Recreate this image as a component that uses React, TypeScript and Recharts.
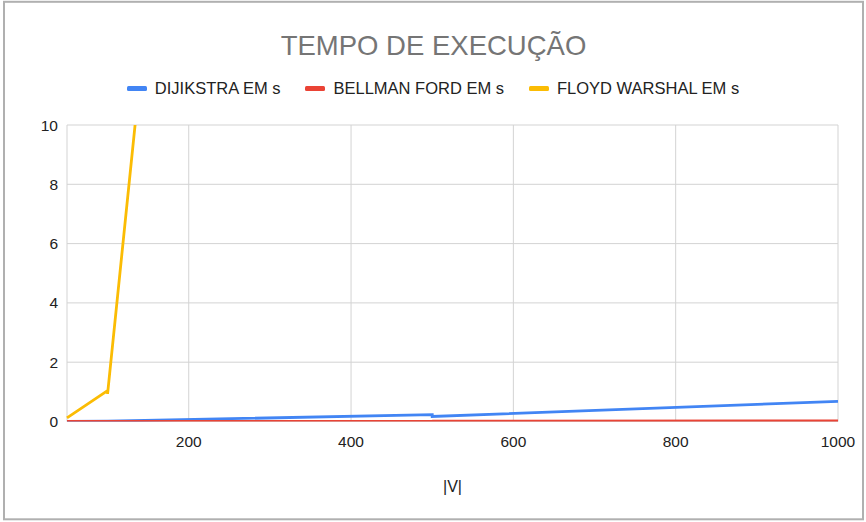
import React from 'react';
import { LineChart, Line, XAxis, YAxis, CartesianGrid } from 'recharts';

const chartTitle = 'TEMPO DE EXECUÇÃO';
const xAxisTitle = '|V|';
const vertices = [50, 100, 100, 500, 500, 1000];
const dijkstra = [0.004, 0.012, 0.012, 0.23, 0.17, 0.68];
const bellmanFord = [0.001, 0.003, 0.002, 0.01, 0.008, 0.02];
const floydWarshall = [0.12, 1.04, 0.93, 108, 105, 860];
const xTicks = [200, 400, 600, 800, 1000];
const yTicks = [0, 2, 4, 6, 8, 10];
const seriesKeys = ['dijkstra', 'bellman', 'floyd'];
const seriesNames = ['DIJIKSTRA EM s', 'BELLMAN FORD EM s', 'FLOYD WARSHAL EM s'];
const seriesColors = ['#4285F4', '#EA4335', '#FBBC04'];

const data = vertices.map((v, i) => ({
  v,
  dijkstra: dijkstra[i],
  bellman: bellmanFord[i],
  floyd: floydWarshall[i],
}));

const FONT = '"Liberation Sans", Arial, sans-serif';
const W = 866;
const H = 522;

export default function App() {
  return (
    <div style={{ position: 'absolute', left: 0, top: 0, width: W, height: H, background: '#fff', fontFamily: FONT }}>
      <LineChart
        width={W}
        height={H}
        data={data}
        margin={{ top: 125, right: 28, bottom: 0, left: 0 }}
      >
        <CartesianGrid stroke="#d3d3d3" strokeWidth={1} />
        <XAxis
          dataKey="v"
          type="number"
          domain={[50, 1000]}
          ticks={xTicks}
          axisLine={false}
          tickLine={false}
          tickMargin={8}
          height={100.5}
          tick={{ fontSize: 15.5, fill: '#222', fontFamily: FONT }}
          label={{ value: xAxisTitle, position: 'insideBottom', offset: 30, fontSize: 16, fill: '#222', fontFamily: FONT }}
        />
        <YAxis
          type="number"
          domain={[0, 10]}
          ticks={yTicks}
          allowDataOverflow
          axisLine={false}
          tickLine={false}
          tickMargin={3}
          width={67}
          tick={{ fontSize: 15.5, fill: '#222', fontFamily: FONT }}
        />
        {seriesKeys.map((k, i) => (
          <Line
            key={k}
            dataKey={k}
            name={seriesNames[i]}
            type="linear"
            stroke={seriesColors[i]}
            strokeWidth={2.8}
            dot={false}
            activeDot={false}
            isAnimationActive={false}
          />
        ))}
      </LineChart>
      <svg width={W} height={H} style={{ position: 'absolute', left: 0, top: 0, pointerEvents: 'none' }}>
        <rect x={4} y={1.8} width={859} height={517.5} fill="none" stroke="#b0b0b0" strokeWidth={2} />
        <text x={433.5} y={54.5} textAnchor="middle" fontSize={27.5} fill="#757575" fontFamily={FONT}>
          {chartTitle}
        </text>
      </svg>
      <div
        style={{
          position: 'absolute',
          left: 0,
          top: 78,
          width: W,
          height: 20,
          display: 'flex',
          justifyContent: 'center',
          alignItems: 'center',
          gap: 25,
          fontSize: 16.5,
          lineHeight: '20px',
          color: '#222',
        }}
      >
        {seriesNames.map((n, i) => (
          <div key={n} style={{ display: 'flex', alignItems: 'center' }}>
            <span style={{ display: 'inline-block', width: 20, height: 5, borderRadius: 1.5, background: seriesColors[i], marginRight: 8 }} />
            <span>{n}</span>
          </div>
        ))}
      </div>
    </div>
  );
}
